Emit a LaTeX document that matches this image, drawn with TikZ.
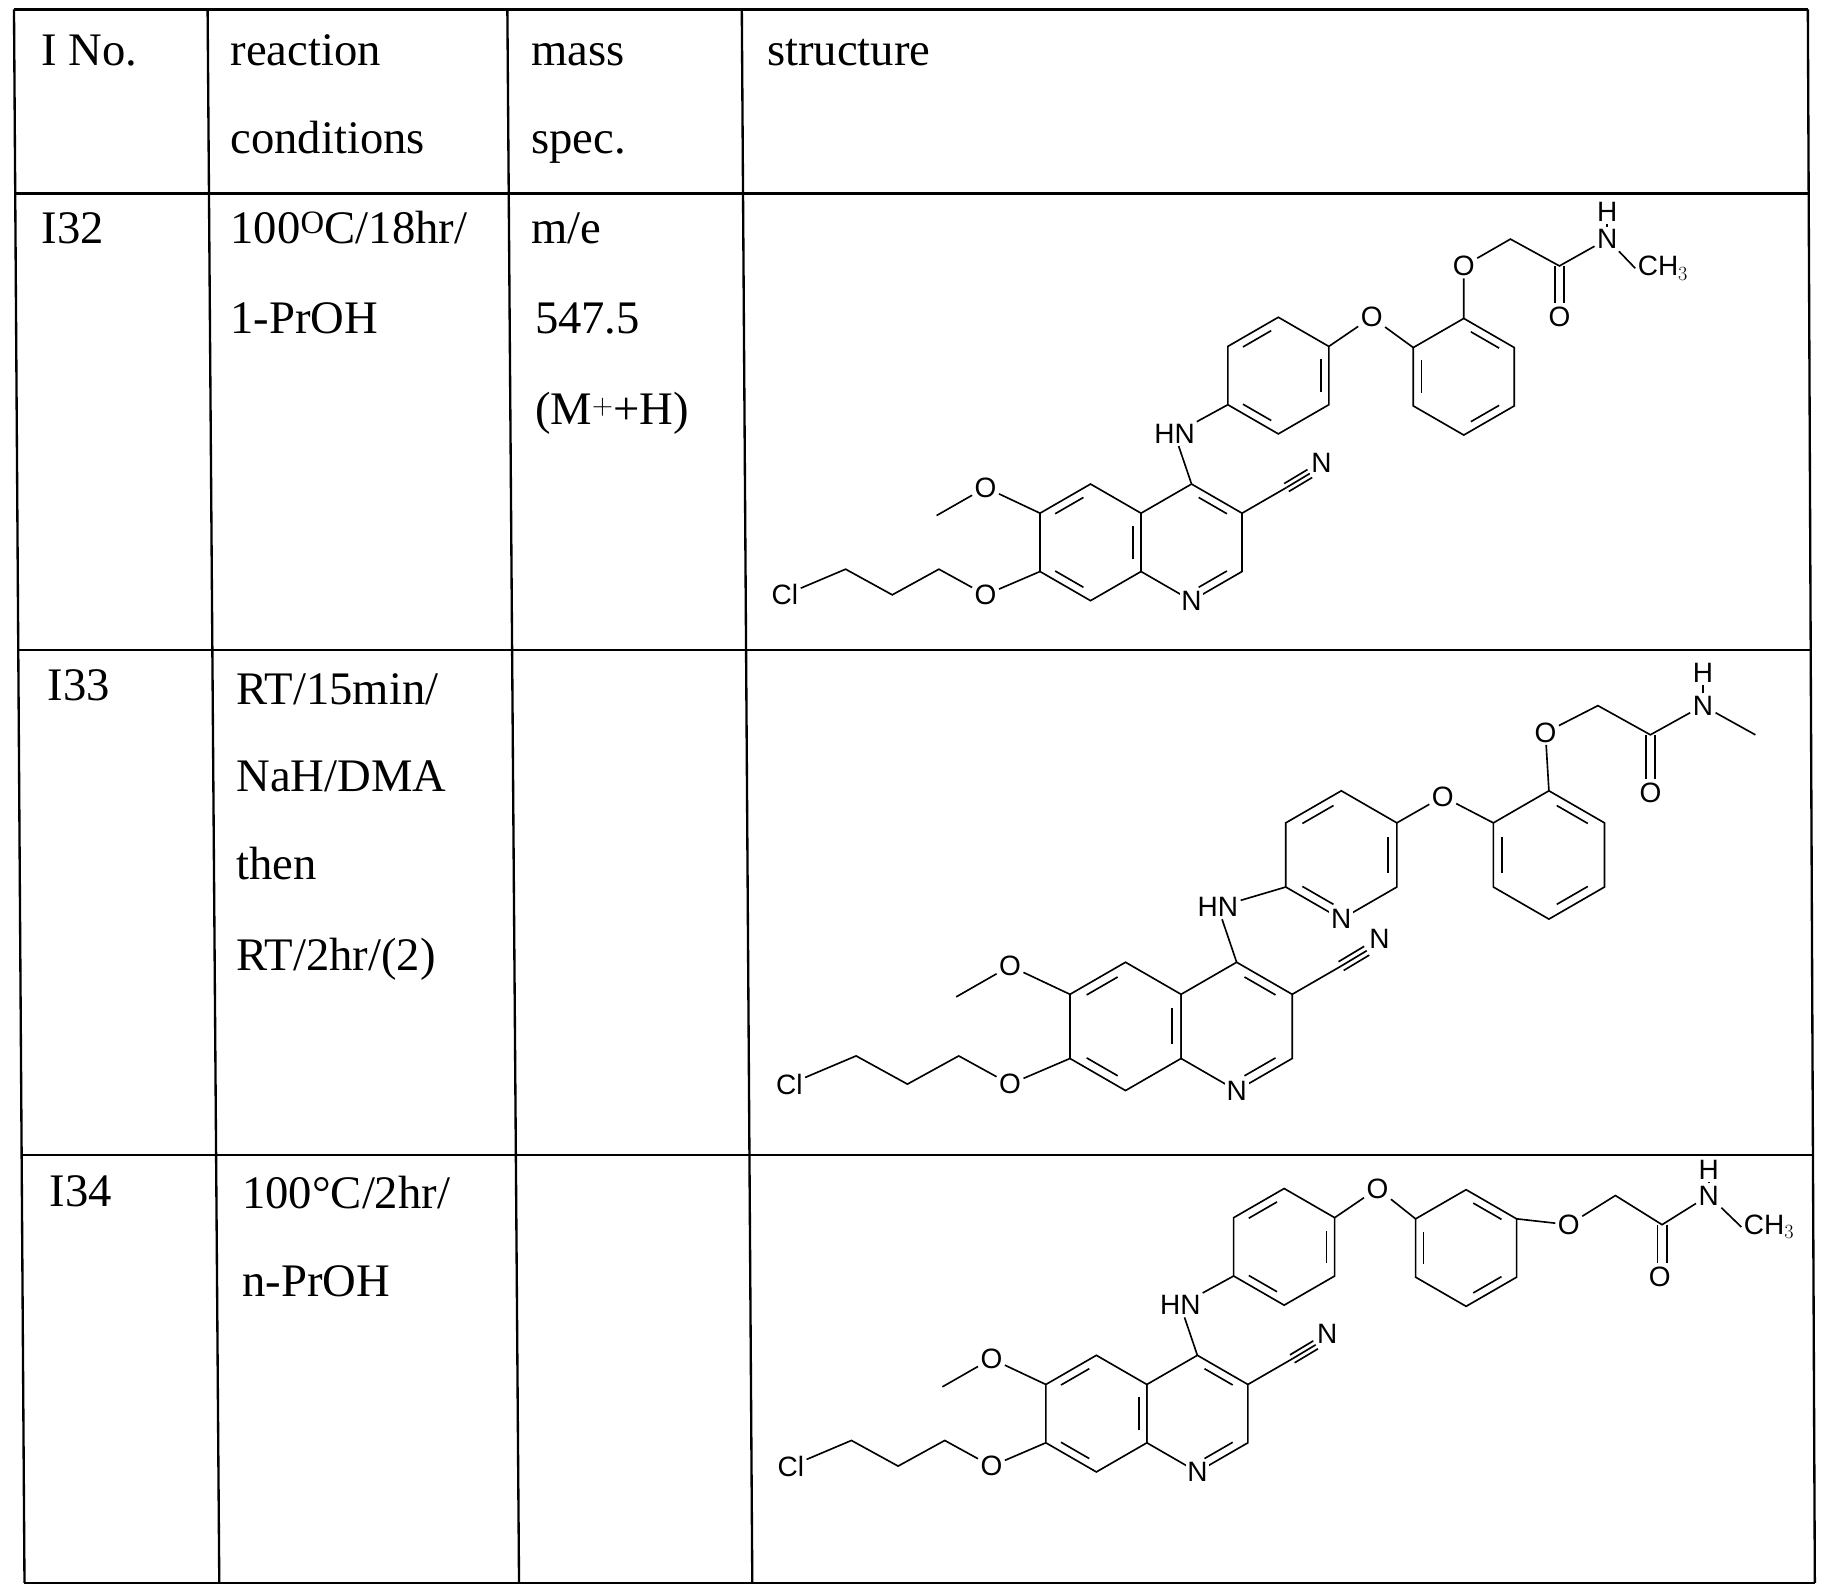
\documentclass[tikz,border=0pt]{standalone}
\usepackage{fontspec}
\setmainfont{Liberation Serif}
\setsansfont{Liberation Sans}
\tikzset{
 lab/.style={font=\sffamily\fontsize{24}{24}\selectfont, fill=white, inner sep=1.5pt},
 txt/.style={anchor=base west, font=\fontsize{40}{40}\selectfont, inner sep=0pt},
 grid/.style={line width=2pt}
}
\newcommand{\hexring}[4]{\begin{scope}[shift={#1},scale=#4]
 \draw (30:50)--(90:50)--(150:50)--(210:50)--(270:50)--(330:50)--cycle;
 \foreach \a in {#2} \draw (\a+9:39)--(\a+51:39);
 \foreach \a in {30,90,150,210,270,330} \coordinate (#3-\a) at (\a:50);
\end{scope}}
\newcommand{\quin}[3]{\begin{scope}[shift={#2},scale=#3]
 \hexring{(0,0)}{210,330,90}{#1L}{1}
 \hexring{(86.6,0)}{270,30}{#1R}{1}
 \node[lab] (#1n) at (86.6,50) {N};
 \node[lab] (#1hn) at (72,-93) {HN};
 \node[lab] (#1cn) at (198,-68) {N};
 \node[lab] (#1om) at (-90,-47) {O};
 \node[lab] (#1op) at (-90,45) {O};
 \node[lab] (#1cl) at (-262,45) {Cl};
 \draw (86.6,-50) -- (#1hn);
 \draw (-43.3,-25) -- (#1om) -- (-132,-23);
 \draw (-43.3,25) -- (#1op) -- (-130,23) -- (-170,45) -- (-210,23) -- (#1cl);
 \draw (129.9,-25) -- (168,-47);
 \draw (168,-47) -- (188,-59);
 \draw (170,-43.6) -- (190,-55.6);
 \draw (166,-50.4) -- (186,-62.4);
\end{scope}}
\begin{document}
\begin{tikzpicture}[x=1pt,y=-1pt,line width=1.4pt]
\useasboundingbox (0,0) rectangle (1563,1366);
% table
\draw[grid] (12,8) -- (1550,8);
\draw[grid] (14,166) -- (1551,166);
\draw[grid] (16,557) -- (1553,557);
\draw[grid] (19,990) -- (1554,990);
\draw[grid] (21,1357) -- (1556,1357);
\draw[grid] (12,8) -- (21,1357);
\draw[grid] (178,8) -- (188,1357);
\draw[grid] (435,8) -- (445,1357);
\draw[grid] (636,8) -- (645,1357);
\draw[grid] (1550,8) -- (1556,1357);
% texts (baselines)
\node[txt] (h1) at (35,56) {I No.};
\node[txt] (h2) at (197,56) {reaction};
\node[txt] (h3) at (197,132) {conditions};
\node[txt] (h4) at (455,56) {mass};
\node[txt] (h5) at (455,132) {spec.};
\node[txt] (h6) at (657,56) {structure};
\node[txt] (a1) at (35,209) {I32};
\node[txt] (a2) at (197,209) {100$^{\mathrm{O}}$C/18hr/};
\node[txt] (a3) at (197,286) {1-PrOH};
\node[txt] (a4) at (455,209) {m/e};
\node[txt] (a5) at (458,286) {547.5};
\node[txt] (a6) at (458,364) {(M$^{+}$+H)};
\node[txt] (b1) at (40,601) {I33};
\node[txt] (b2) at (202,604) {RT/15min/};
\node[txt] (b3) at (202,679) {NaH/DMA};
\node[txt] (b4) at (202,754) {then};
\node[txt] (b5) at (202,832) {RT/2hr/(2)};
\node[txt] (c1) at (42,1034) {I34};
\node[txt] (c2) at (207,1036) {100°C/2hr/};
\node[txt] (c3) at (207,1112) {n-PrOH};
% ---- structure 1
\quin{a}{(935,465)}{1}
\hexring{(1096,322)}{210,330,90}{ar1}{1}
\hexring{(1255,323)}{270,30,150}{ar2}{1}
\node[lab] (ao1) at (1176,272) {O};
\node[lab] (ao2) at (1255,228) {O};
\node[lab] (aoc) at (1337,272) {O};
\node[lab] (anh) at (1378,205) {N};
\node[lab] (ah) at (1378,182) {H};
\node[lab,anchor=west] (ame) at (1402,230) {CH$_3$};
\draw (ahn) -- (ar1-150);
\draw (ar1-330) -- (ao1) -- (ar2-210);
\draw (ar2-270) -- (ao2) -- (1295,205) -- (1337,228) -- (anh) -- (ame.west);
\draw (1333,228) -- (1333,260);
\draw (1341,228) -- (1341,260);
\draw (anh) -- (ah);
% ---- structure 2
\quin{b}{(965,880)}{1.1}
\hexring{(1150,733)}{210,330,90}{bp}{1.1}
\hexring{(1328,733)}{270,30,150}{bq}{1.1}
\node[lab] (bpn) at (bp-90) {N};
\node[lab] (bo1) at (1237,683) {O};
\node[lab] (bo2) at (1325,628) {O};
\node[lab] (boc) at (1415,680) {O};
\node[lab] (bnh) at (1460,605) {N};
\node[lab] (bh) at (1460,577) {H};
\draw (bhn) -- (bp-150);
\draw (bp-330) -- (bo1) -- (bq-210);
\draw (bq-270) -- (bo2) -- (1370,605) -- (1415,630) -- (bnh) -- (1505,630);
\draw (1411,630) -- (1411,668);
\draw (1419,630) -- (1419,668);
\draw (bnh) -- (bh);
% ---- structure 3
\quin{c}{(940,1212)}{1}
\hexring{(1101,1069)}{210,330,90}{cr1}{1}
\hexring{(1257,1070)}{270,30,150}{cr2}{1}
\node[lab] (co1) at (1181,1019) {O};
\node[lab] (co2) at (1345,1050) {O};
\node[lab] (coc) at (1423,1095) {O};
\node[lab] (cnh) at (1465,1025) {N};
\node[lab] (ch) at (1465,1003) {H};
\node[lab,anchor=west] (cme) at (1493,1052) {CH$_3$};
\draw (chn) -- (cr1-150);
\draw (cr1-330) -- (co1) -- (cr2-210);
\draw (cr2-330) -- (co2) -- (1385,1025) -- (1425,1050) -- (cnh) -- (cme.west);
\draw (1421,1050) -- (1421,1083);
\draw (1429,1050) -- (1429,1083);
\draw (cnh) -- (ch);
\end{tikzpicture}
\end{document}
